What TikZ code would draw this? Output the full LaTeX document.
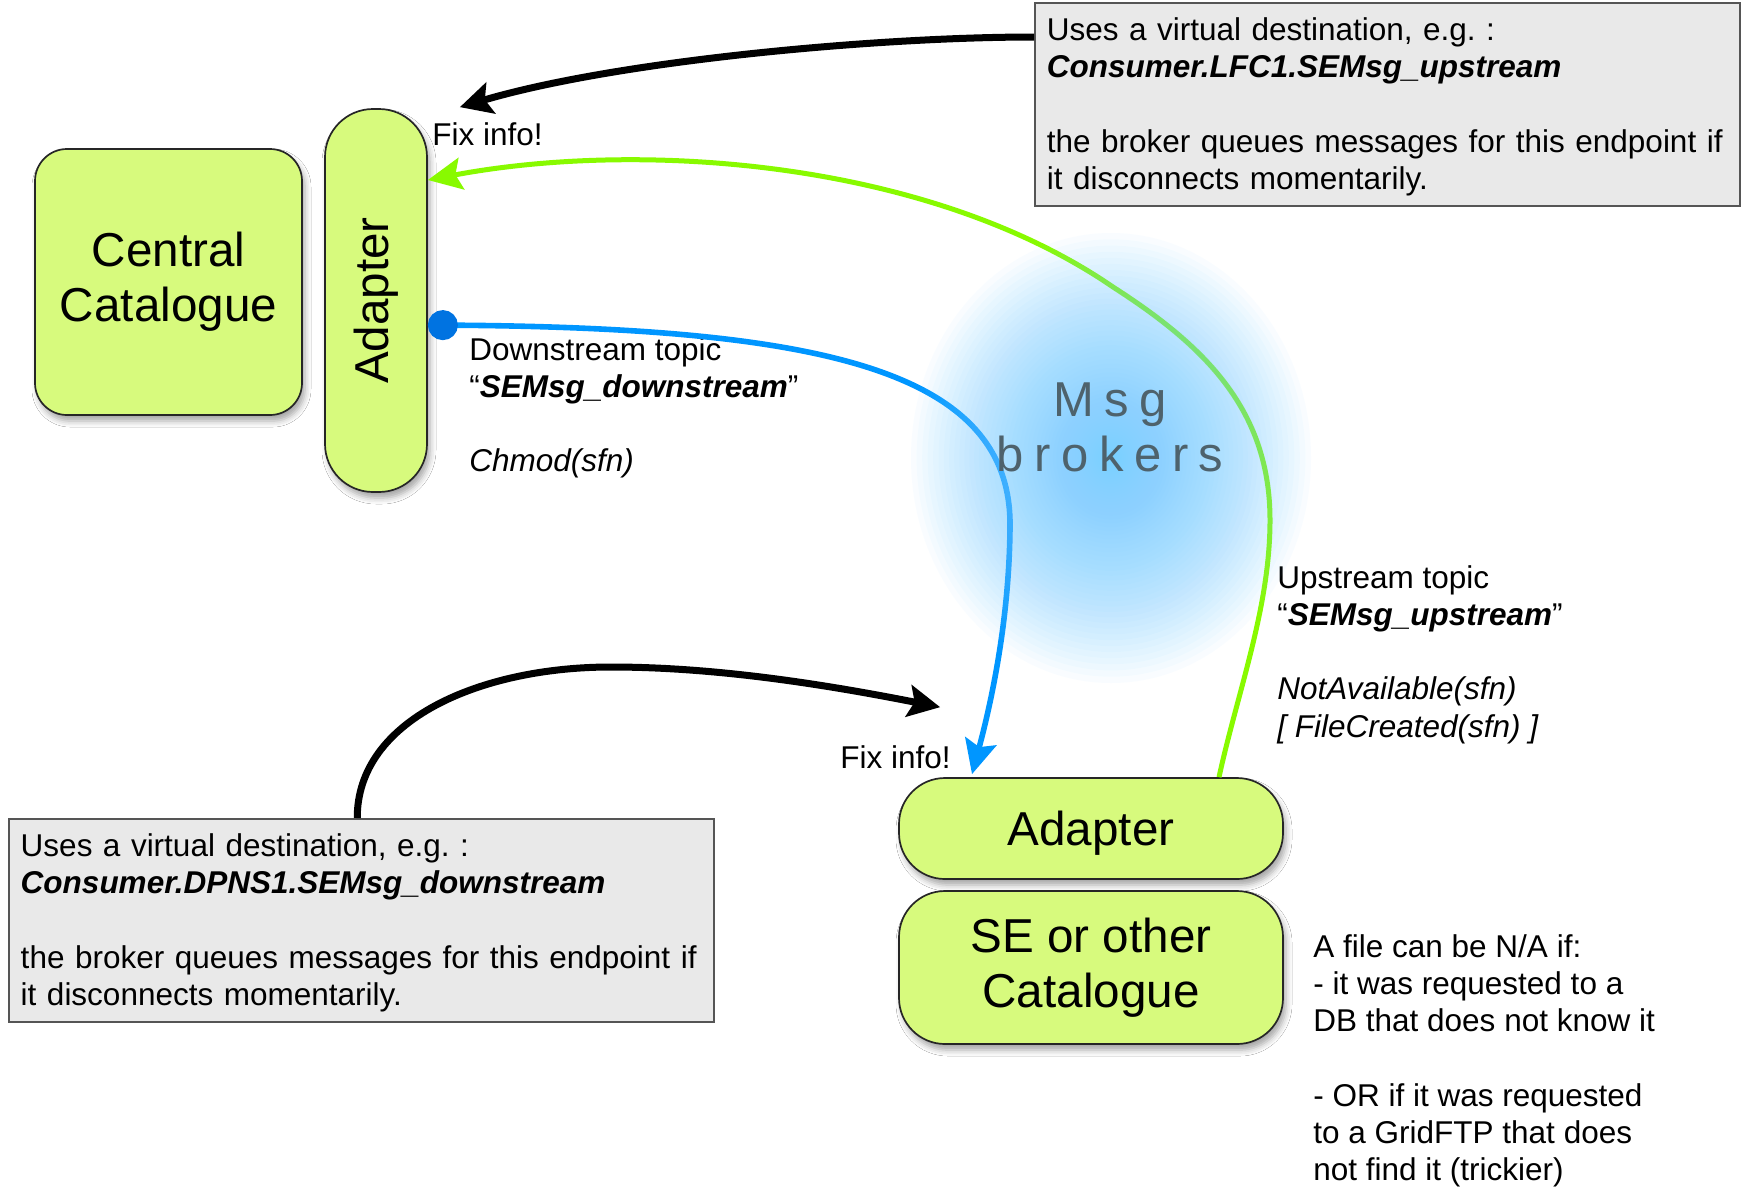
\documentclass[tikz,border=0pt]{standalone}
\usepackage{fontspec}
\setmainfont{Liberation Sans}
\usepackage{graphicx}
\usetikzlibrary{arrows.meta,shadows.blur,calc}

\definecolor{boxgreen}{RGB}{215,250,125}
\definecolor{notegray}{RGB}{233,233,233}
\definecolor{noteline}{RGB}{85,85,85}
\definecolor{upgreen}{RGB}{136,250,0}
\definecolor{downblue}{RGB}{0,150,255}
\definecolor{dotblue}{RGB}{0,115,225}
\definecolor{glowblue}{RGB}{120,208,255}
\definecolor{brokertext}{RGB}{78,98,108}

\newcommand{\notefont}{\fontsize{15.75}{18.6}\selectfont\frenchspacing}
\newcommand{\bigfont}{\fontsize{23.8}{27.5}\selectfont}

\tikzset{
  greenbox/.style={draw=black!85, line width=0.85pt, fill=boxgreen,
    font=\bigfont, align=center, inner sep=0pt,
    blur shadow={shadow xshift=1.5pt, shadow yshift=-3pt,
                 shadow blur radius=3pt, shadow opacity=35}},
  note/.style={draw=noteline, line width=0.75pt, fill=notegray,
    anchor=north west, text width=340.5pt, inner xsep=6pt, inner ysep=0pt,
    minimum height=101.5pt, align=left, font=\notefont},
  txt/.style={inner sep=0pt, align=left, font=\notefont},
  fixline/.style={draw=black, line width=3.5pt,
    -{Stealth[length=16pt, width=16pt, inset=3pt]}},
  upline/.style={draw=upgreen, line width=2.5pt,
    -{Stealth[length=17pt, width=16pt, inset=3pt]}},
  downline/.style={draw=downblue, line width=2.8pt,
    {Circle[length=15pt, color=dotblue]}-{Stealth[length=17pt, width=16pt, inset=3pt]}},
  glowlayer/.style={fill=glowblue, opacity=0.045},
}

\begin{document}
\begin{tikzpicture}[x=0.5pt, y=-0.5pt]
\fill[white] (0,0) rectangle (1743,1189);
\useasboundingbox (0,0) rectangle (1743,1189);

% catalogue and adapter blocks
\node[greenbox, rounded corners=16pt, minimum width=133.5pt, minimum height=133pt]
  (central) at (168.5,282) {Central\\Catalogue};
\node[greenbox, rounded corners=24pt, minimum width=51pt, minimum height=191.5pt]
  (adapterL) at (376,300.5) {\rotatebox{90}{Adapter}};
\node[greenbox, rounded corners=23pt, minimum width=192pt, minimum height=50.5pt, text depth=0pt]
  (adapterR) at (1091,828.5) {Adapter};
\node[greenbox, rounded corners=23pt, minimum width=192pt, minimum height=76.5pt]
  (se) at (1091,967.5) {SE or other\\Catalogue};

% notes on virtual destinations
\node[note] (noteTR) at (1034,2) {\rule{0pt}{14pt}Uses a virtual destination, e.g. :\\
  \textbf{\textit{Consumer.LFC1.SEMsg\_upstream}}\\[18.6pt]
  the broker queues messages for this endpoint if\\
  it disconnects momentarily.};
\node[note] (noteBL) at (8,818) {\rule{0pt}{14pt}Uses a virtual destination, e.g. :\\
  \textbf{\textit{Consumer.DPNS1.SEMsg\_downstream}}\\[18.6pt]
  the broker queues messages for this endpoint if\\
  it disconnects momentarily.};

% free text
\node[txt, anchor=base west] (fixTop) at (432,145) {Fix info!};
\node[txt, anchor=base west] (fixBot) at (840,768) {Fix info!};
\node[txt, anchor=north west] (downTxt) at (469,337)
  {Downstream topic\\“\textbf{\textit{SEMsg\_downstream}}”\\[18.6pt]\textit{Chmod(sfn)}};
\node[txt, anchor=north west] (upTxt) at (1277,565)
  {Upstream topic\\“\textbf{\textit{SEMsg\_upstream}}”\\[18.6pt]\textit{NotAvailable(sfn)}\\\textit{[ FileCreated(sfn) ]}};
\node[txt, anchor=north west] (naTxt) at (1313,934)
  {A file can be N/A if:\\- it was requested to a\\DB that does not know it\\[18.6pt]- OR if it was requested\\to a GridFTP that does\\not find it (trickier)};

% fix-info arrows from the virtual destinations
\draw[fixline] ($(noteTR.north west)+(0,35)$)
  .. controls (880,37) and (620,60) .. ($(adapterL.north east)+(32,-1)$);
\draw[fixline] ($(noteBL.north)+(-4,0)$)
  .. controls (357,720) and (480,667) .. (611,667)
  .. controls (720,667) and (833,686) .. ($(adapterR.north west)+(42,-70)$);

% upstream topic
\draw[upline] ($(adapterR.north)+(128,0)$)
  .. controls (1237.5,692) and (1270,608) .. (1270,520)
  .. controls (1270,410) and (1205,346) .. (1113,287)
  .. controls (928,160) and (640,140) .. ($(adapterL.east)+(0,-120.5)$);

% downstream topic
\draw[downline] ($(adapterL.east)+(0,24.5)$)
  .. controls (820,328) and (1008,370) .. (1010,522)
  .. controls (1010,610) and (994,692) .. ($(adapterR.north)+(-119,-3)$);

% message broker cloud: stacked translucent ellipses, denser towards the middle
\foreach \k in {1,...,60}{
  \pgfmathsetmacro{\f}{(\k/60)^1.7}
  \fill[glowlayer] (1111,458) ellipse [x radius={200*\f}, y radius={225*\f}];
}
\node[inner sep=0pt, anchor=north, align=center, text=brokertext,
  font=\fontsize{24.5}{27.5}\selectfont] (brokers) at (1110,382)
  {M\kern5.3pt s\kern5.3pt g\\b\kern5.3pt r\kern5.3pt o\kern5.3pt k\kern5.3pt e\kern5.3pt r\kern5.3pt s};
\end{tikzpicture}
\end{document}
